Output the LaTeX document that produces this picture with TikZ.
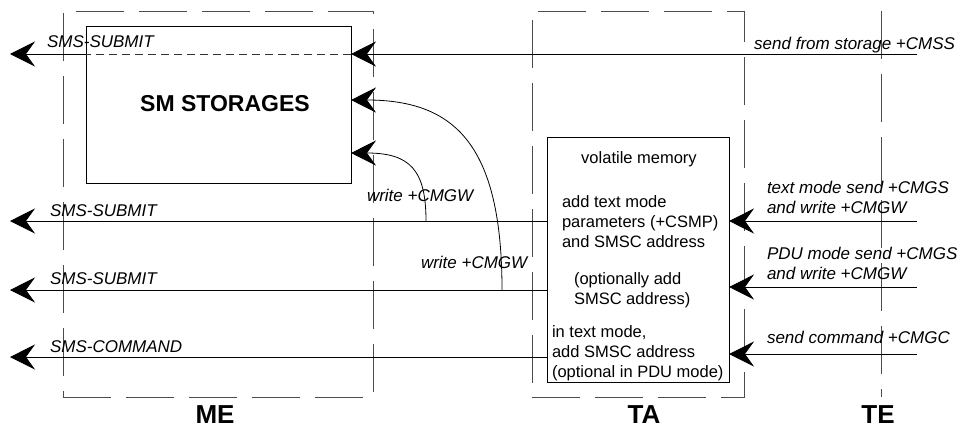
\documentclass[tikz,border=0pt]{standalone}
\usepackage{fontspec}
\setmainfont{Liberation Sans}
\usetikzlibrary{arrows.meta}
\begin{document}
\begin{tikzpicture}[x=1pt,y=-1pt,
  every node/.style={inner sep=0pt, outer sep=0pt},
  lab/.style={font=\fontsize{17}{19.5}\selectfont\itshape, align=left},
  body/.style={font=\fontsize{16.5}{19.7}\selectfont, align=left},
  big/.style={font=\fontsize{23}{26}\selectfont\bfseries},
  head/.style={font=\fontsize{26}{30}\selectfont\bfseries},
  boxline/.style={draw=black, line width=0.8pt},
  dashbox/.style={draw=black!70, line width=0.8pt, dash pattern=on 48pt off 15pt},
  conn/.style={draw=black, line width=0.8pt},
  arr/.style={conn, -{Stealth[length=25pt,width=25pt,inset=9pt]}},
  fine/.style={draw=black!80, line width=0.8pt, dash pattern=on 8pt off 5pt}]
\useasboundingbox (0,0) rectangle (960,428);
% frames
\node[dashbox, minimum width=310pt, minimum height=386pt, anchor=north west] (me) at (63,11) {};
\node[dashbox, minimum width=212pt, minimum height=386pt, anchor=north west] (ta) at (532,11) {};
\coordinate (tetop) at (881,11);
\coordinate (tebot) at (881,397);
\draw[dashbox] (tetop) -- (tebot);
% boxes
\node[boxline, minimum width=265pt, minimum height=157pt, anchor=north west] (store) at (86,26) {};
\node[boxline, minimum width=182pt, minimum height=245pt, anchor=north west] (vol) at (547,137) {};
% free ends
\coordinate (r1) at (917,54);  \coordinate (l1) at (10,54);
\coordinate (r2) at (917,221); \coordinate (l2) at (10,221);
\coordinate (r3) at (917,287); \coordinate (l3) at (10,290);
\coordinate (r4) at (917,354); \coordinate (l4) at (10,357);
\coordinate (w1) at (502,290);
\coordinate (w2) at (426,221);
% line 1
\draw[arr] (r1) -- (store.east |- r1);
\draw[fine] (store.east |- r1) -- (store.west |- r1);
\draw[arr] (store.west |- r1) -- (l1);
% lines 2-4
\draw[arr] (l2 -| vol.west) -- (l2);
\draw[arr] (r2) -- (r2 -| vol.east);
\draw[arr] (l3 -| vol.west) -- (l3);
\draw[arr] (r3) -- (r3 -| vol.east);
\draw[arr] (l4 -| vol.west) -- (l4);
\draw[arr] (r4) -- (r4 -| vol.east);
% curves into storage
\draw[arr] (w1) .. controls (502,145) and (455,100) .. (store.east |- 0,100);
\draw[arr] (w2) .. controls (426,170) and (410,153) .. (store.east |- 0,153);
% texts
\node[big, anchor=base] (storet) at (225,111) {SM STORAGES};
\node[lab, anchor=base west] (t1) at (47,48) {SMS-SUBMIT};
\node[lab, anchor=base east] (t2) at (955,50) {send from storage +CMSS};
\node[lab, anchor=base west] (t3) at (50,216) {SMS-SUBMIT};
\node[lab, anchor=base west] (t4) at (50,284) {SMS-SUBMIT};
\node[lab, anchor=base west] (t5) at (50,352) {SMS-COMMAND};
\node[lab, anchor=base west] (t6) at (367,201) {write +CMGW};
\node[lab, anchor=base west] (t7) at (421,268) {write +CMGW};
\node[lab, anchor=base west] (t8) at (767,213) {text mode send +CMGS\\and write +CMGW};
\node[lab, anchor=base west] (t9) at (767,279) {PDU mode send +CMGS\\and write +CMGW};
\node[lab, anchor=base west] (t10) at (767,343) {send command +CMGC};
\node[body, anchor=base] (v1) at (639,163) {volatile memory};
\node[body, anchor=base west] (v2) at (562,247) {add text mode\\parameters (+CSMP)\\and SMSC address};
\node[body, anchor=base west] (v3) at (574,304) {(optionally add\\SMSC address)};
\node[body, anchor=base west] (v4) at (552,377) {in text mode,\\add SMSC address\\(optional in PDU mode)};
\node[head, anchor=base] (hme) at (215,423) {ME};
\node[head, anchor=base] (hta) at (644,423) {TA};
\node[head, anchor=base] (hte) at (878,423) {TE};
\end{tikzpicture}
\end{document}
